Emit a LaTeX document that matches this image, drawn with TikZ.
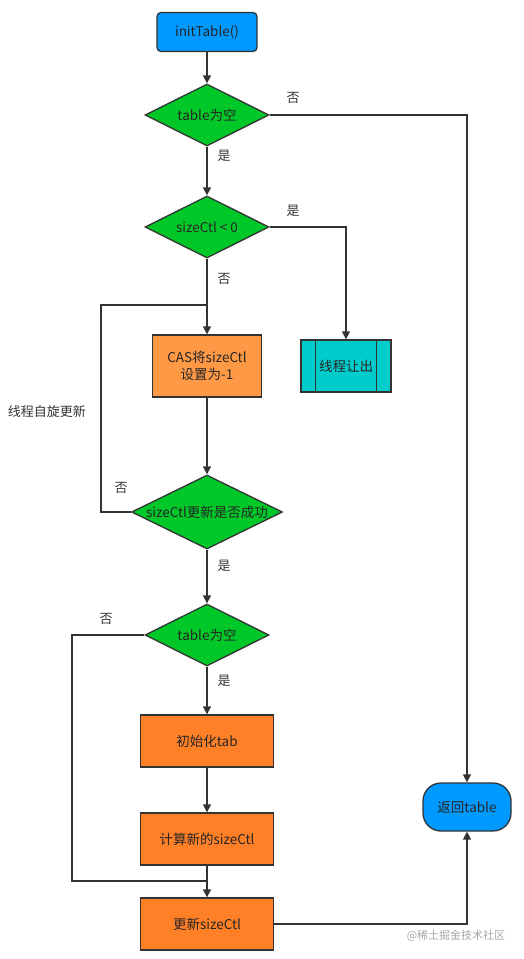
\documentclass[tikz,border=0pt]{standalone}
\usepackage{fontspec}
\setmainfont{Noto Sans CJK SC}
\usepackage{tikz}
\usetikzlibrary{arrows.meta, positioning, shapes.geometric}
\usepackage{xcolor}
\definecolor{termblue}{RGB}{0,153,255}
\definecolor{decgreen}{RGB}{0,200,40}
\definecolor{subteal}{RGB}{0,204,204}
\definecolor{casorange}{RGB}{255,153,70}
\definecolor{procorange}{RGB}{255,128,38}
\definecolor{linegray}{RGB}{51,51,51}

\begin{document}
\begin{tikzpicture}[x=1pt, y=-1pt, font=\fontsize{13.5}{17}\selectfont,
  line/.style={draw=linegray, line width=1.4pt},
  arrow/.style={line, -{Triangle[length=8pt,width=8pt]}},
  terminal/.style={draw=linegray, line width=1.3pt, fill=termblue, rounded corners=4pt, minimum width=100pt, minimum height=39pt, text=black!85},
  decision/.style={draw=linegray, line width=1.3pt, fill=decgreen, diamond, aspect=2, inner sep=0pt, minimum width=124pt, minimum height=62pt, text=black!85},
  process/.style={draw=linegray, line width=1.3pt, fill=procorange, minimum width=133pt, minimum height=52pt, text=black!85},
  tag/.style={font=\fontsize{13}{15}\selectfont, text=black!80}]
  \useasboundingbox (0,0) rectangle (524,959);
  % main column
  \node[terminal] (init) at (207,32) {initTable()};
  \node[decision] (empty1) at (207,115) {table为空};
  \node[decision] (less) at (207,227) {sizeCtl < 0};
  \node[process, fill=casorange, minimum width=109pt, minimum height=62pt, align=center] (cas) at (207,366) {CAS将sizeCtl\\设置为-1};
  \node[decision, minimum width=151pt, minimum height=74pt, label={[text=black!85]center:sizeCtl更新是否成功}] (ok) at (207,512) {};
  \node[decision] (empty2) at (207,635) {table为空};
  \node[process] (inittab) at (207,741) {初始化tab};
  \node[process] (calc) at (207,839) {计算新的sizeCtl};
  \node[process] (upd) at (207,924) {更新sizeCtl};
  % side nodes
  \node[draw=linegray, line width=1.3pt, fill=subteal, minimum width=90pt, minimum height=52pt, text=black!85] (yield) at (346,366) {线程让出};
  \draw[linegray, line width=1.3pt] ([xshift=15pt]yield.north west) -- ([xshift=15pt]yield.south west);
  \draw[linegray, line width=1.3pt] ([xshift=-15pt]yield.north east) -- ([xshift=-15pt]yield.south east);
  \node[terminal, rounded corners=18pt, minimum width=88pt, minimum height=48pt] (ret) at (467,807) {返回table};
  % loop points
  \coordinate (spin) at (207,305);
  \coordinate (spinL) at (101,305);
  \coordinate (skip) at (207,881);
  \coordinate (skipL) at (72,881);
  % connectors
  \draw[arrow] (init) -- (empty1);
  \draw[arrow] (empty1.east) -| (ret.north);
  \draw[arrow] (empty1) -- (less);
  \draw[arrow] (less.east) -| (yield.north);
  \draw[arrow] (less) -- (cas);
  \draw[arrow] (cas) -- (ok);
  \draw[line] (ok.west) -| (spinL) -- (spin);
  \draw[arrow] (ok) -- (empty2);
  \draw[line] (empty2.west) -| (skipL) -- (skip);
  \draw[arrow] (empty2) -- (inittab);
  \draw[arrow] (inittab) -- (calc);
  \draw[arrow] (calc) -- (upd);
  \draw[arrow] (upd.east) -| (ret.south);
  % labels
  \node[tag] (no1) at (293,98) {否};
  \node[tag] (yes1) at (224,156) {是};
  \node[tag] (yes2) at (293,211) {是};
  \node[tag] (no2) at (224,279) {否};
  \node[tag] (no3) at (121,488) {否};
  \node[tag] (spinlbl) at (47,412) {线程自旋更新};
  \node[tag] (yes3) at (224,566) {是};
  \node[tag] (no4) at (106,619) {否};
  \node[tag] (yes4) at (224,681) {是};
  \node[font=\fontsize{11}{13}\selectfont, text=gray!70] (mark) at (456,936) {@稀土掘金技术社区};
\end{tikzpicture}
\end{document}
